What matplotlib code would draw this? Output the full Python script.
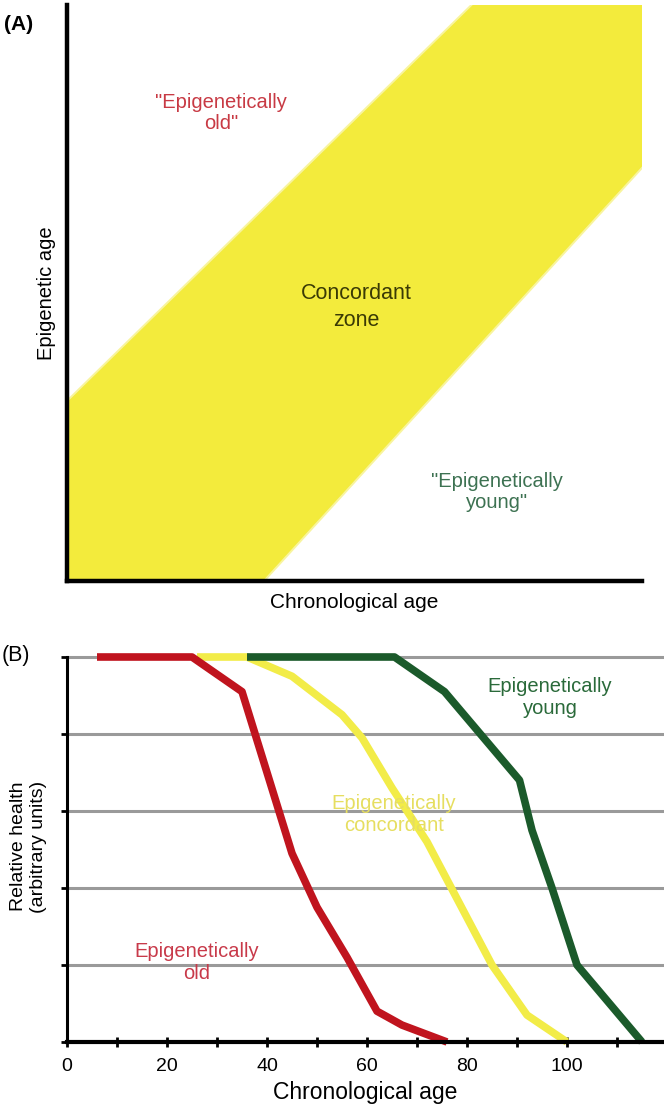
import matplotlib
matplotlib.use("Agg")
import matplotlib.pyplot as plt
from matplotlib.patches import Polygon
import numpy as np

plt.rcParams['font.family'] = ['Liberation Sans', 'DejaVu Sans']

# panel A: concordant band outline (chronological age, epigenetic age), 0-100 scale
band_x = [0, 34, 100, 100, 70.6, 0]
band_y = [0, 0, 72, 100, 100, 31]

# panel B: relative health curves
age_ticks = [0, 20, 40, 60, 80, 100]
old_x = [6, 25, 35, 45, 50, 56, 62, 67, 76]
old_y = [5, 5, 4.55, 2.45, 1.75, 1.1, 0.4, 0.22, 0]
conc_x = [26, 36, 45, 55, 59, 65, 72, 85, 92, 100]
conc_y = [5, 5, 4.75, 4.25, 3.95, 3.3, 2.6, 1.0, 0.35, 0]
young_x = [36, 65.5, 75.5, 90.5, 93, 97, 102, 115]
young_y = [5, 5, 4.55, 3.4, 2.75, 2.0, 1.0, 0]
grid_levels = [1, 2, 3, 4, 5]

RED = '#c0141e'
YEL = '#f2ec48'
GRN = '#1b5a2b'

fig = plt.figure(figsize=(6.64, 11.19), dpi=100)

# ---------------- panel A
axA = fig.add_axes([67/664, 1-581/1119, 575/664, 576/1119])
axA.add_patch(Polygon(np.column_stack([band_x, band_y]), closed=True,
                      facecolor='#f3eb3c', edgecolor='#f3eb3c', lw=3, alpha=0.5))
axA.add_patch(Polygon(np.column_stack([band_x, band_y]), closed=True,
                      facecolor='#f3eb3c', edgecolor='none'))
axA.set_xlim(0, 100)
axA.set_ylim(0, 100)
for s in ['top', 'right']:
    axA.spines[s].set_visible(False)
for s in ['left', 'bottom']:
    axA.spines[s].set_linewidth(3.2)
    axA.spines[s].set_zorder(5)
axA.set_xticks([])
axA.set_yticks([])
axA.set_xlabel('Chronological age', fontsize=15, labelpad=9)
axA.set_ylabel('Epigenetic age', fontsize=14.5, labelpad=8)
axA.text(26.8, 81.3, '"Epigenetically\nold"', color='#c83a44', fontsize=14.5,
         ha='center', va='center', linespacing=1.15)
axA.text(50.4, 47.6, 'Concordant\nzone', color='#3a3a05', fontsize=15.5,
         ha='center', va='center', linespacing=1.35)
axA.text(74.8, 15.5, '"Epigenetically\nyoung"', color='#3d7252', fontsize=14.5,
         ha='center', va='center', linespacing=1.15)
fig.text(4/664, 1-25/1119, '(A)', fontsize=15, fontweight='bold', va='center')

# ---------------- panel B
topB = 5 + 6/77
axB = fig.add_axes([67/664, 1-1042/1119, 597/664, (1042-651)/1119])
axB.set_xlim(0, 119.4)
axB.set_ylim(0, topB)
for lv in grid_levels:
    axB.axhline(lv, color='#9a9a9a', lw=2.2, zorder=1)
axB.plot(old_x, old_y, color=RED, lw=5.5, solid_capstyle='butt', zorder=3, clip_on=False)
axB.plot(conc_x, conc_y, color=YEL, lw=5.5, solid_capstyle='butt', zorder=2, clip_on=False)
axB.plot(young_x, young_y, color=GRN, lw=5.5, solid_capstyle='butt', zorder=2.5, clip_on=False)
for s in ['top', 'right']:
    axB.spines[s].set_visible(False)
axB.spines['left'].set_linewidth(2.2)
axB.spines['left'].set_bounds(0, 5)
axB.spines['bottom'].set_linewidth(3)
axB.spines['bottom'].set_zorder(4)
axB.set_xticks(age_ticks)
axB.set_xticklabels([str(t) for t in age_ticks], fontsize=14)
axB.set_xticks(np.arange(10, 120, 20), minor=True)
axB.tick_params(axis='x', which='both', direction='inout', length=7, width=2, pad=8)
axB.set_yticks([0, 1, 2, 3, 4, 5])
axB.set_yticklabels([])
axB.tick_params(axis='y', direction='out', length=4, width=2)
axB.set_xlabel('Chronological age', fontsize=16.5, labelpad=4)
axB.set_ylabel('Relative health\n(arbitrary units)', fontsize=14, labelpad=7,
               linespacing=1.2)
axB.text(96.6, 4.48, 'Epigenetically\nyoung', color='#2a6a3a', fontsize=14.5,
         ha='center', va='center', linespacing=1.2)
axB.text(65.4, 2.95, 'Epigenetically\nconcordant', color='#e6de60', fontsize=14.5,
         ha='center', va='center', linespacing=1.2)
axB.text(26, 1.03, 'Epigenetically\nold', color='#c83a4a', fontsize=14.5,
         ha='center', va='center', linespacing=1.2)
fig.text(2/664, 1-655/1119, '(B)', fontsize=15.5, va='center')

fig.savefig('out.png', dpi=100)
